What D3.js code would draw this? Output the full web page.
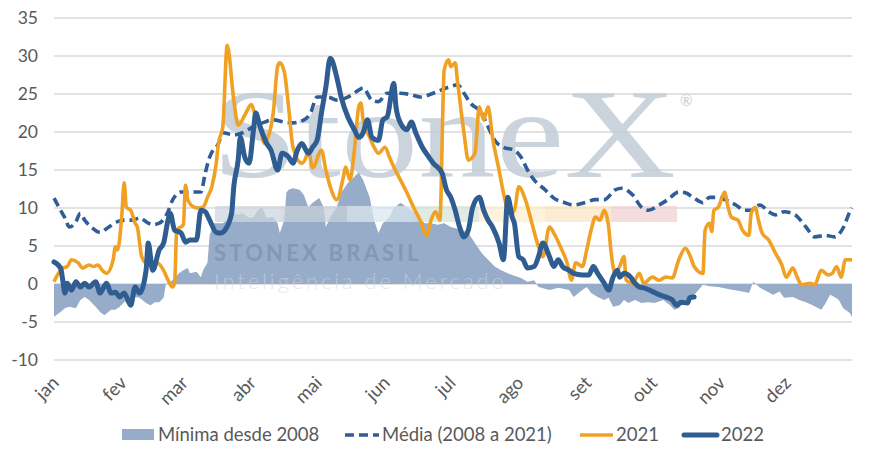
<!DOCTYPE html>
<html><head><meta charset="utf-8">
<script src="https://cdn.jsdelivr.net/npm/d3@7"></script>
<style>
html,body{margin:0;padding:0;background:#fff;}
svg{display:block;font-family:Lato,"Open Sans",sans-serif;}
</style></head>
<body>
<svg id="c" width="880" height="457"></svg>
<script>
// ---------- DATA (day of year 2021, value) ----------
const monthLabels = ["jan","fev","mar","abr","mai","jun","jul","ago","set","out","nov","dez"];
const yTicks = [-10,-5,0,5,10,15,20,25,30,35];
const legendLabels = ["Mínima desde 2008","Média (2008 a 2021)","2021","2022"];

const minima = [[0,-4.3],[3,-3.7],[5,-3.2],[7,-3.0],[10,-3.2],[12,-2.1],[14,-1.7],[16,-2.1],[19,-3.0],[21,-3.7],[23,-4.1],[26,-3.4],[28,-3.4],[30,-3.0],[32,-2.4],[35,-1.8],[37,-1.7],[39,-1.8],[42,-2.5],[44,-2.8],[46,-2.4],[48,-2.4],[50,-1.8],[51,-0.1],[52,0.1],[54,0.5],[57,1.4],[59,1.8],[61,2.1],[62,1.4],[65,1.6],[67,0.9],[68,1.8],[70,2.8],[71,6.4],[73,8.0],[77,8.0],[82,9.3],[84,9.1],[86,9.3],[89,8.7],[91,8.8],[93,9.7],[95,10.1],[97,8.7],[100,8.8],[102,8.0],[103,6.7],[105,8.4],[106,12.0],[107,12.4],[109,12.6],[112,12.4],[114,11.7],[116,10.1],[118,10.7],[121,11.3],[123,10.1],[124,7.5],[126,8.8],[129,10.1],[131,12.0],[134,13.3],[137,14.1],[139,14.7],[141,13.7],[144,11.4],[146,8.4],[148,6.7],[150,8.0],[153,8.8],[155,10.0],[158,10.7],[161,10.1],[164,9.5],[167,8.7],[169,8.0],[172,8.0],[175,7.8],[178,8.0],[181,7.5],[186,7.1],[189,6.7],[192,5.4],[195,4.1],[198,3.2],[201,2.3],[204,1.8],[207,1.4],[213,0.8],[216,0.3],[219,0.5],[221,-0.4],[226,-0.8],[230,-0.5],[235,-0.8],[237,-1.7],[241,-0.8],[243,-0.4],[245,-1.2],[248,-1.7],[251,-2.1],[253,-1.8],[255,-3.0],[258,-2.8],[260,-2.1],[262,-2.5],[265,-2.1],[268,-2.5],[271,-2.4],[274,-2.5],[278,-2.1],[281,-2.8],[283,-3.4],[285,-3.2],[287,-2.5],[290,-1.8],[292,-1.4],[294,-0.8],[296,-0.1],[299,-0.3],[303,-0.4],[308,-0.7],[314,-1.0],[317,-1.2],[319,0.3],[322,-0.5],[324,-0.8],[328,-1.4],[331,-1.0],[333,-1.8],[337,-1.7],[340,-2.1],[343,-2.4],[346,-2.8],[350,-3.4],[352,-2.5],[354,-1.4],[356,-1.7],[358,-2.1],[360,-3.2],[363,-3.8],[364,-4.3]];

const media = [[0,11.3],[3,9.7],[5,8.7],[7,7.5],[10,8.2],[12,9.3],[14,8.4],[17,7.5],[21,6.8],[25,7.5],[29,8.2],[32,8.4],[36,8.4],[39,8.7],[43,8.0],[45,7.8],[48,8.0],[52,9.5],[54,11.0],[58,12.1],[62,12.1],[67,12.1],[69,14.6],[71,16.7],[75,18.5],[77,19.9],[82,19.6],[86,19.9],[91,20.7],[96,21.3],[100,21.6],[105,21.3],[109,21.2],[114,21.6],[117,22.5],[120,24.6],[125,24.6],[129,24.2],[134,24.6],[139,25.5],[141,25.8],[145,24.2],[148,24.0],[152,25.1],[158,25.1],[163,24.9],[167,24.6],[173,25.1],[180,25.9],[184,26.2],[187,25.1],[190,23.8],[195,22.5],[198,20.7],[201,18.9],[205,18.0],[210,17.6],[213,16.7],[216,15.0],[219,13.7],[224,12.4],[228,11.3],[233,10.7],[237,10.4],[242,10.7],[247,11.1],[251,11.1],[256,12.4],[259,12.6],[264,11.7],[268,10.1],[271,9.7],[276,10.4],[280,11.1],[285,12.1],[288,12.0],[292,11.3],[296,10.7],[299,11.4],[303,11.4],[306,11.1],[311,10.4],[315,9.7],[318,9.7],[322,10.4],[326,9.5],[329,9.1],[333,9.5],[338,9.1],[343,7.5],[347,6.2],[352,6.4],[356,6.2],[360,7.4],[363,9.5],[364,10.0]];

const y2021 = [[0,0.3],[2,1.4],[4,2.1],[6,2.3],[8,3.2],[11,2.8],[13,2.1],[16,2.5],[18,2.3],[20,2.5],[22,1.8],[24,1.4],[27,3.2],[28,4.9],[29,4.5],[31,9.3],[32,13.3],[33,10.1],[35,9.7],[37,8.0],[38,7.5],[40,3.6],[42,2.8],[43,3.2],[45,2.2],[47,2.8],[50,1.8],[52,0.5],[54,-0.4],[55,0.1],[56,7.1],[59,7.8],[60,13.0],[61,11.1],[64,10.1],[66,10.0],[68,10.1],[70,11.4],[72,12.8],[74,15.9],[75,18.5],[77,20.7],[79,31.4],[82,24.2],[84,20.9],[87,22.2],[90,23.6],[92,22.0],[94,20.7],[96,18.5],[97,18.9],[100,22.5],[102,28.6],[103,29.1],[105,28.0],[107,23.3],[109,18.0],[113,15.9],[115,16.7],[116,17.6],[118,15.3],[122,17.6],[124,15.0],[126,12.8],[129,11.1],[132,14.1],[133,15.4],[135,13.7],[137,17.6],[139,23.3],[140,23.8],[141,21.6],[144,19.3],[146,18.0],[148,17.2],[151,18.0],[153,16.7],[155,15.4],[158,13.7],[161,12.0],[164,10.1],[167,8.4],[170,6.4],[172,8.4],[174,9.5],[176,8.4],[178,28.2],[180,29.5],[181,28.6],[183,29.1],[184,26.8],[187,19.9],[189,16.3],[192,17.2],[194,23.3],[196,21.6],[198,23.3],[200,19.3],[203,15.0],[205,12.0],[208,9.3],[210,9.7],[212,12.8],[215,11.1],[218,8.0],[221,4.9],[223,3.6],[226,7.5],[228,6.7],[231,4.9],[234,2.8],[236,0.5],[238,2.8],[241,2.3],[243,4.5],[245,7.1],[247,8.8],[249,8.4],[251,9.7],[253,7.5],[254,4.5],[256,1.4],[258,2.3],[260,3.6],[261,0.5],[264,0.1],[267,1.4],[269,0.1],[273,0.9],[276,0.5],[279,0.9],[282,0.8],[285,3.2],[288,4.7],[290,3.8],[292,2.3],[296,1.4],[297,7.1],[299,8.0],[300,6.9],[301,9.7],[303,10.1],[306,12.1],[307,10.7],[309,8.8],[312,8.4],[314,7.1],[317,6.4],[318,9.3],[320,10.1],[321,8.8],[323,6.7],[326,5.8],[329,4.1],[332,2.5],[334,0.9],[337,2.1],[339,0.9],[341,-0.1],[345,0.1],[347,-0.1],[350,1.8],[353,1.2],[355,1.4],[357,2.3],[359,0.9],[361,3.2],[364,3.2]];

const y2022 = [[0,2.9],[3,2.1],[4,0.5],[5,-1.2],[6,0.1],[8,-0.8],[10,0.3],[12,-0.4],[14,0.1],[16,-0.4],[19,0.3],[21,-1.2],[22,-0.8],[24,0.1],[26,-1.2],[28,-1.1],[30,-1.7],[32,-1.2],[35,-2.8],[37,-0.4],[39,-1.2],[42,1.8],[43,5.4],[45,1.8],[48,4.5],[50,5.4],[52,8.4],[53,9.3],[55,7.1],[58,6.7],[60,5.5],[62,5.8],[65,5.8],[67,9.7],[69,9.5],[71,8.4],[74,6.8],[76,6.7],[78,7.1],[81,9.3],[82,12.8],[84,16.3],[85,19.3],[87,16.7],[89,15.9],[91,20.3],[92,22.5],[94,20.7],[97,18.5],[99,17.6],[102,15.0],[104,17.2],[107,16.7],[109,15.9],[111,17.6],[113,18.5],[116,17.2],[118,18.0],[120,18.9],[122,22.5],[124,25.9],[126,29.7],[129,27.2],[131,24.6],[134,22.0],[137,20.3],[139,19.3],[141,19.9],[143,21.6],[145,19.3],[148,18.9],[150,21.6],[152,22.0],[155,26.4],[156,23.3],[158,21.2],[161,20.3],[163,21.3],[165,19.9],[168,18.0],[171,16.7],[173,15.9],[177,14.6],[179,12.4],[181,11.4],[183,9.7],[185,7.5],[187,6.2],[189,7.1],[191,10.1],[194,11.4],[196,9.7],[198,8.4],[200,7.5],[203,5.4],[205,3.2],[207,11.4],[209,8.8],[210,8.0],[212,3.6],[214,3.2],[216,2.1],[219,2.3],[221,3.6],[223,5.4],[226,3.6],[228,2.3],[230,3.2],[232,2.3],[235,1.8],[237,1.4],[241,1.2],[244,1.2],[246,2.3],[248,1.4],[251,0.1],[253,-0.8],[255,0.9],[257,1.8],[258,0.9],[260,1.4],[263,0.9],[265,0.1],[267,-0.4],[269,-0.5],[273,-1.0],[276,-1.4],[279,-1.7],[282,-2.1],[284,-2.8],[286,-2.4],[289,-2.5],[290,-1.8],[292,-1.7]];

// ---------- CHART ----------
const svg = d3.select("#c");
const day = d => new Date(2021, 0, 1 + d);
const x = d3.scaleTime().domain([new Date(2021,0,1), new Date(2021,11,31)]).range([54, 852]);
const y = d3.scaleLinear().domain([-10, 35]).range([360, 18]);

const textColor = "#595959";

// grid
svg.append("g").selectAll("line").data(yTicks).join("line")
  .attr("x1", 54).attr("x2", 852)
  .attr("y1", d => y(d)).attr("y2", d => y(d))
  .attr("stroke", "#d9d9d9").attr("stroke-width", 1.5);

// y labels
svg.append("g").selectAll("text").data(yTicks).join("text")
  .attr("x", 38).attr("y", d => y(d)).attr("dy", "0.36em")
  .attr("text-anchor", "end").attr("fill", textColor)
  .attr("font-size", 17.5).text(d => d);

// month labels
const months = d3.timeMonth.range(new Date(2021,0,1), new Date(2022,0,1));
svg.append("g").selectAll("text").data(months).join("text")
  .attr("transform", d => `translate(${x(d)+6},384) rotate(-45)`)
  .attr("text-anchor", "end").attr("fill", textColor)
  .attr("font-size", 18.5).text((d,i) => monthLabels[i]);

// area
const area = d3.area().x(d => x(day(d[0]))).y0(y(0)).y1(d => y(d[1]));
svg.append("path").datum(minima).attr("d", area).attr("fill", "#96acc8");

// watermark
const wm = svg.append("g").attr("pointer-events","none");
wm.append("text").attr("x", 212).attr("y", 177)
  .attr("font-family", "'Liberation Serif','DejaVu Serif',serif")
  .attr("font-size", 128).attr("textLength", 464).attr("lengthAdjust","spacingAndGlyphs")
  .attr("fill", "#c3cdd8").attr("opacity", 0.85).text("StoneX");
wm.append("text").attr("x", 680).attr("y", 106).attr("font-size", 15)
  .attr("fill", "#c3cdd8").text("®");
const barColors = ["#cdd5de","#c7d0da","#dbe7ef","#d6e5d8","#fcefd2","#fce6c6","#f2d0d3"];
wm.selectAll("rect").data(barColors).join("rect")
  .attr("x", (d,i) => 215 + i*66).attr("y", 206).attr("width", 66).attr("height", 16)
  .attr("fill", d => d).attr("opacity", 0.75);
wm.append("text").attr("x", 214).attr("y", 261).attr("font-size", 22).attr("font-weight", "bold")
  .attr("letter-spacing", 3.2).attr("fill", "#5d7595").attr("opacity", 0.35).text("STONEX BRASIL");
wm.append("text").attr("x", 214).attr("y", 289).attr("font-size", 22).attr("font-weight", 300)
  .attr("letter-spacing", 2.9).attr("fill", "#d4d9de").attr("opacity", 0.6).text("Inteligência de Mercado");

// lines
const line = d3.line().x(d => x(day(d[0]))).y(d => y(d[1])).curve(d3.curveMonotoneX);
svg.append("path").datum(media).attr("d", line).attr("fill","none")
  .attr("stroke", "#2e5e95").attr("stroke-width", 3.6).attr("stroke-dasharray", "9,5");
svg.append("path").datum(y2021).attr("d", line).attr("fill","none")
  .attr("stroke", "#f0a023").attr("stroke-width", 3.6).attr("stroke-linejoin","round");
svg.append("path").datum(y2022).attr("d", line).attr("fill","none")
  .attr("stroke", "#2f5d92").attr("stroke-width", 5).attr("stroke-linejoin","round").attr("stroke-linecap","round");

// legend
const lg = svg.append("g").attr("font-size", 18.5).attr("fill", textColor);
lg.append("rect").attr("x", 122).attr("y", 429).attr("width", 32).attr("height", 11).attr("fill", "#96acc8");
lg.append("text").attr("x", 158).attr("y", 441).text(legendLabels[0]);
lg.append("line").attr("x1", 345).attr("x2", 379).attr("y1", 435).attr("y2", 435)
  .attr("stroke", "#2e5e95").attr("stroke-width", 3.6).attr("stroke-dasharray", "9,5");
lg.append("text").attr("x", 382).attr("y", 441).text(legendLabels[1]);
lg.append("line").attr("x1", 580).attr("x2", 613).attr("y1", 435).attr("y2", 435)
  .attr("stroke", "#f0a023").attr("stroke-width", 3.6);
lg.append("text").attr("x", 616).attr("y", 441).text(legendLabels[2]);
lg.append("line").attr("x1", 684).attr("x2", 717).attr("y1", 435).attr("y2", 435)
  .attr("stroke", "#2f5d92").attr("stroke-width", 5).attr("stroke-linecap","round");
lg.append("text").attr("x", 721).attr("y", 441).text(legendLabels[3]);
</script>
</body></html>
